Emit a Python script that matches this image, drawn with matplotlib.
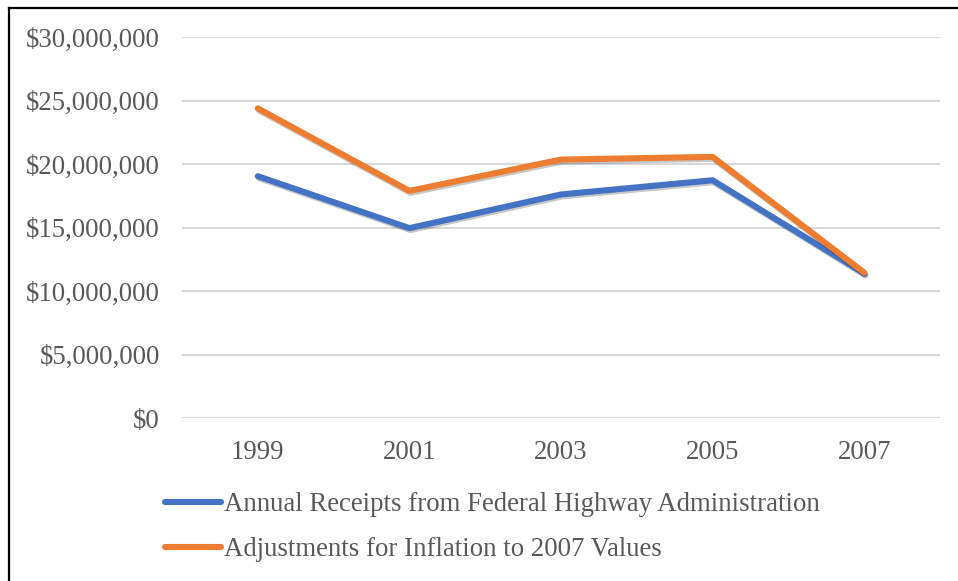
import matplotlib
matplotlib.use("Agg")
import matplotlib.pyplot as plt
import matplotlib.patheffects as pe
from matplotlib.lines import Line2D
from matplotlib.ticker import FuncFormatter

years = ["1999", "2001", "2003", "2005", "2007"]
receipts = [19040000, 14950000, 17600000, 18720000, 11380000]
adjusted = [24380000, 17880000, 20350000, 20560000, 11450000]
series_labels = ["Annual Receipts from Federal Highway Administration",
                 "Adjustments for Inflation to 2007 Values"]
colors = ["#4472C4", "#ED7D31"]

plt.rcParams['font.family'] = ['Liberation Serif', 'DejaVu Serif']
txt_color = "#595959"
fs = 19.3

fig = plt.figure(figsize=(9.58, 5.81), dpi=100)
ax = fig.add_axes([182/958, 1-418/581, (940-182)/958, (418-37)/581])

x = list(range(len(years)))
shadow = [pe.SimpleLineShadow(offset=(0.8, -1.4), shadow_color='k', alpha=0.22), pe.Normal()]
handles = []
for vals, c, lab in zip([receipts, adjusted], colors, series_labels):
    ax.plot(x, vals, color=c, lw=4.4, solid_capstyle='round', solid_joinstyle='round',
            label=lab, path_effects=shadow, zorder=3)
    handles.append(Line2D([0], [0], color=c, lw=4.4, solid_capstyle='round', label=lab))

ax.set_xlim(-0.5, len(years) - 0.5)
ax.set_ylim(0, 30000000)
ax.set_yticks(range(0, 30000001, 5000000))
ax.yaxis.set_major_formatter(FuncFormatter(lambda v, p: "${:,.0f}".format(v)))
ax.set_xticks(x)
ax.set_xticklabels(years)
ax.grid(axis='y', color='#D9D9D9', lw=1.5)
ax.set_axisbelow(True)
for s in ax.spines.values():
    s.set_visible(False)
ax.tick_params(axis='both', length=0, labelsize=fs, labelcolor=txt_color)
ax.tick_params(axis='y', pad=16)
ax.tick_params(axis='x', pad=16)

leg = fig.legend(handles=handles, loc='upper left', bbox_to_anchor=(165/958, 1-492/581),
                 frameon=False, fontsize=fs, handlelength=2.08, handletextpad=0.12,
                 labelspacing=0.76, borderpad=0, borderaxespad=0)
for t in leg.get_texts():
    t.set_color(txt_color)

# figure border (top and left visible)
fig.add_artist(Line2D([8.5/958, 8.5/958], [0, 1-7.5/581], transform=fig.transFigure, color='black', lw=1.6))
fig.add_artist(Line2D([8.5/958, 1], [1-7.5/581, 1-7.5/581], transform=fig.transFigure, color='black', lw=1.6))

fig.savefig("out.png", dpi=100)
